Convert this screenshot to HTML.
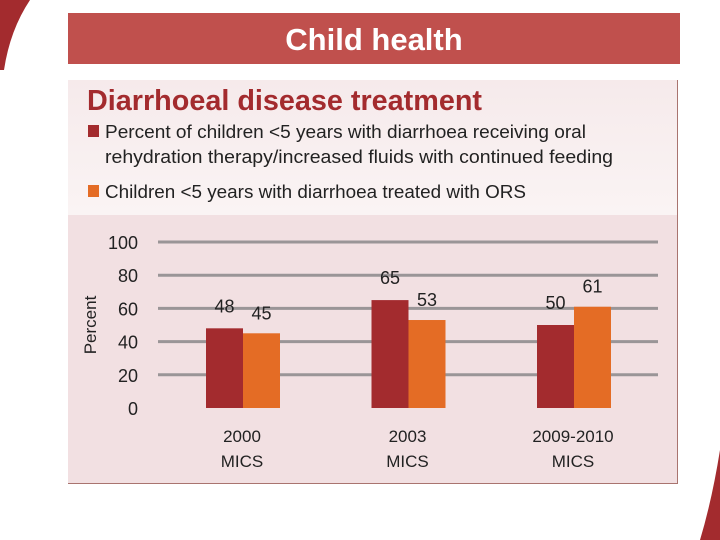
<!DOCTYPE html>
<html><head><meta charset="utf-8"><style>
body{margin:0;width:720px;height:540px;background:#fff;overflow:hidden;font-family:"Liberation Sans",sans-serif;position:relative}
.hdr{position:absolute;left:68px;top:13px;width:612px;height:51px;background:#c0504d;color:#fff;font-weight:bold;font-size:31px;text-align:center;line-height:54px}
.panel{position:absolute;left:68px;top:80px;width:609px;height:403px;background:#f2e0e2;border-right:1px solid #a9746f;border-bottom:1px solid #a9746f}
.top{position:absolute;left:0;top:0;width:609px;height:135px;background:linear-gradient(#f6eaeb,#faf4f4)}
</style></head><body>
<svg style="position:absolute;left:0;top:0" width="40" height="80"><path d="M0,0 L30,0 Q10,30 4,70 L0,70 Z" fill="#a32b2e"/></svg>
<svg style="position:absolute;left:690px;top:450px" width="30" height="90"><path d="M30,0 L30,90 L10,90 Q22,50 30,0 Z" fill="#a32b2e"/></svg>
<div class="hdr">Child health</div>
<div class="panel"><div class="top"></div></div>
<svg id="c" style="position:absolute;left:0;top:0" width="720" height="540"></svg>
<script>
const categories=[["2000","MICS"],["2003","MICS"],["2009-2010","MICS"]];
const seriesORT=[48,65,50];
const seriesORS=[45,53,61];
const ticks=[0,20,40,60,80,100];
const NS="http://www.w3.org/2000/svg",svg=document.getElementById('c');
function el(t,a,txt){const e=document.createElementNS(NS,t);for(const k in a)e.setAttribute(k,a[k]);if(txt!=null)e.textContent=txt;svg.appendChild(e);return e;}
const y0=408,y1=242;const y=v=>y0-(v/100)*(y0-y1);
const x=i=>243+i*165.5;
let t=el('text',{x:87,y:110,'font-size':28.5,'font-weight':'bold',fill:'#a32b2e',textLength:395,lengthAdjust:'spacingAndGlyphs'},'Diarrhoeal disease treatment');

let r=el('rect',{x:88,y:125,width:11,height:12,fill:'#a32b2e'});
t=el('text',{x:105,y:138,'font-size':18.5,fill:'#222',textLength:481,lengthAdjust:'spacingAndGlyphs'},'Percent of children <5 years with diarrhoea receiving oral');
t=el('text',{x:105,y:163,'font-size':18.5,fill:'#222',textLength:508,lengthAdjust:'spacingAndGlyphs'},'rehydration therapy/increased fluids with continued feeding');
r=el('rect',{x:88,y:185,width:11,height:12,fill:'#e46c25'});
t=el('text',{x:105,y:198,'font-size':18.5,fill:'#222',textLength:421,lengthAdjust:'spacingAndGlyphs'},'Children <5 years with diarrhoea treated with ORS');
ticks.forEach(v=>{
 if(v>0){const l=el('line',{x1:158,x2:658,y1:y(v),y2:y(v),stroke:'#9a9597','stroke-width':3});}
 const tx=el('text',{x:138,y:y(v)+7,'font-size':18,'text-anchor':'end',fill:'#222'},v);
});
t=el('text',{x:0,y:0,'font-size':17,'text-anchor':'middle',fill:'#222',transform:'translate(96,325) rotate(-90)'},'Percent');
const bw=37;
categories.forEach((c,i)=>{
 const cx=x(i);
 const a=el('rect',{x:cx-bw,y:y(seriesORT[i]),width:bw,height:y0-y(seriesORT[i]),fill:'#a32b2e'});
 const b=el('rect',{x:cx,y:y(seriesORS[i]),width:bw,height:y0-y(seriesORS[i]),fill:'#e46c25'});
 const la=el('text',{x:cx-bw/2,y:y(seriesORT[i])-16,'font-size':18,'text-anchor':'middle',fill:'#222'},seriesORT[i]);
 const lb=el('text',{x:cx+bw/2,y:y(seriesORS[i])-14,'font-size':18,'text-anchor':'middle',fill:'#222'},seriesORS[i]);
 const c1=el('text',{x:cx-1,y:442,'font-size':17,'text-anchor':'middle',fill:'#222'},c[0]);
 const c2=el('text',{x:cx-1,y:467,'font-size':17,'text-anchor':'middle',fill:'#222'},c[1]);
});
</script>
</body></html>
